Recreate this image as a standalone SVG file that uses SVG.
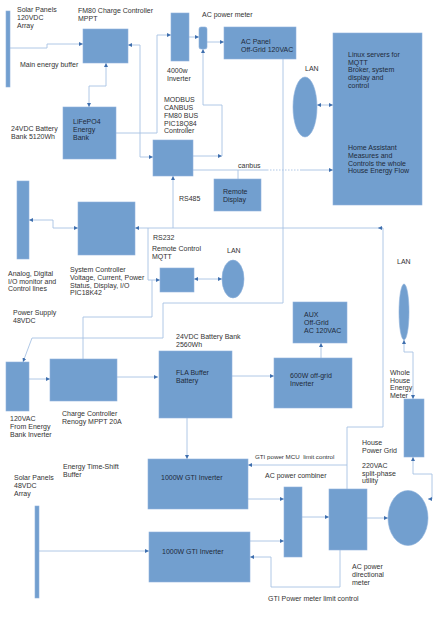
<svg xmlns="http://www.w3.org/2000/svg" width="439" height="620" viewBox="0 0 439 620">
<defs>
<style>
.b{fill:#729fcf;stroke:#8fb2dc;stroke-width:0.6}
.c{fill:none;stroke:#a7c2e3;stroke-width:0.9}
.d{fill:none;stroke:#a7c2e3;stroke-width:0.9;stroke-dasharray:1.5 1.5}
text{font-family:"Liberation Sans",Arial,sans-serif;font-size:7px;fill:#333333}
.w{fill:#1e2a3a}
.s{font-size:6.2px}
</style>
<marker id="a" viewBox="0 0 6 6" refX="6" refY="3" markerWidth="4" markerHeight="4" orient="auto-start-reverse" markerUnits="userSpaceOnUse">
<path d="M0,0 L6,3 L0,6 z" fill="#3f6fae"/>
</marker>
</defs>
<rect width="439" height="620" fill="#fff"/>

<g id="connectors">
<path class="c" d="M10,48 H47 V44 H83" marker-end="url(#a)"/>
<path class="c" d="M106,63 V86 H89 V107" marker-start="url(#a)" marker-end="url(#a)"/>
<path class="c" d="M128,45 H140 V157 H153" marker-start="url(#a)" marker-end="url(#a)"/>
<path class="c" d="M116,133 H157 V35 H171" marker-end="url(#a)"/>
<path class="c" d="M189,37 H199" marker-end="url(#a)"/>
<path class="c" d="M207,42 H224" marker-end="url(#a)"/>
<path class="c" d="M193,156 H222" marker-end="url(#a)"/>
<path class="c" d="M222,156 V105 H203 V49" marker-end="url(#a)"/>
<path class="c" d="M190,170 H267"/>
<path class="d" d="M267,170 H300"/>
<path class="c" d="M300,170 H333" marker-end="url(#a)"/>
<path class="c" d="M238,170 V179"/>
<path class="c" d="M317,105 H333" marker-start="url(#a)" marker-end="url(#a)"/>
<path class="c" d="M78,228 H53 V220 H29" marker-start="url(#a)" marker-end="url(#a)"/>
<path class="c" d="M173,228 V176" marker-end="url(#a)"/>
<path class="c" d="M383,228 H135" marker-end="url(#a)"/>
<path class="c" d="M383,228 H378" marker-end="url(#a)"/>
<path class="c" d="M347,490 V427 H383 V228"/>
<path class="c" d="M347,465 H248" marker-end="url(#a)"/>
<path class="c" d="M148,228 V280 H160" marker-end="url(#a)"/>
<path class="c" d="M194,279 H222" marker-start="url(#a)" marker-end="url(#a)"/>
<path class="c" d="M152,280 V317 H83 V359"/>
<path class="c" d="M283,59 V303 H163 V338 H32 L23,362" marker-end="url(#a)"/>
<path class="c" d="M29,379 H50" marker-end="url(#a)"/>
<path class="c" d="M117,377 H158" marker-end="url(#a)"/>
<path class="c" d="M232,376 H274" marker-end="url(#a)"/>
<path class="c" d="M321,358 V343" marker-end="url(#a)"/>
<path class="c" d="M187,418 V459" marker-end="url(#a)"/>
<path class="c" d="M404,340 V352 H413 V399" marker-start="url(#a)" marker-end="url(#a)"/>
<path class="c" d="M428,499 H432 V474 H413 V457" marker-start="url(#a)" marker-end="url(#a)"/>
<path class="c" d="M367,518 H388" marker-end="url(#a)"/>
<path class="c" d="M302,517 H329" marker-end="url(#a)"/>
<path class="c" d="M248,499 H284" marker-end="url(#a)"/>
<path class="c" d="M250,541 H284" marker-end="url(#a)"/>
<path class="c" d="M340,550 V587 H271 V557 H250" marker-end="url(#a)"/>
<path class="c" d="M39,551 H149" marker-end="url(#a)"/>
</g>

<g id="solar120">
<rect class="b" x="6" y="11" width="4" height="76"/>
<text x="17" y="12">Solar Panels</text>
<text x="17" y="20">120VDC</text>
<text x="17" y="28">Array</text>
</g>
<text x="20" y="67">Main energy buffer</text>

<g id="fm80">
<rect class="b" x="83" y="29" width="45" height="34"/>
<text x="78" y="13">FM80 Charge Controller</text>
<text x="78" y="21">MPPT</text>
</g>

<g id="lifepo4">
<rect class="b" x="63" y="107" width="53" height="52"/>
<text class="w" x="73" y="124">LiFePO4</text>
<text class="w" x="73" y="132">Energy</text>
<text class="w" x="73" y="140">Bank</text>
<text x="11" y="131">24VDC Battery</text>
<text x="11" y="139">Bank 5120Wh</text>
</g>

<g id="inverter4000">
<rect class="b" x="171" y="13" width="18" height="48"/>
<text x="167" y="73">4000w</text>
<text x="167" y="81">Inverter</text>
</g>

<g id="acmeter">
<rect class="b" x="199" y="27" width="8" height="22" rx="2"/>
<text x="202" y="17">AC power meter</text>
</g>

<g id="acpanel">
<rect class="b" x="224" y="27" width="72" height="32"/>
<text class="w" x="241" y="44">AC Panel</text>
<text class="w" x="241" y="52">Off-Grid 120VAC</text>
</g>

<g id="lan1">
<ellipse class="b" cx="305" cy="107" rx="12" ry="30"/>
<text x="305" y="71">LAN</text>
</g>

<g id="linux">
<rect class="b" x="333" y="33" width="89" height="172"/>
<text class="w" x="348" y="57">Linux servers for</text>
<text class="w" x="348" y="64.5">MQTT</text>
<text class="w" x="348" y="72">Broker,  system</text>
<text class="w" x="348" y="80">display and</text>
<text class="w" x="348" y="87.5">control</text>
<text class="w" x="348" y="150">Home Assistant</text>
<text class="w" x="348" y="158">Measures and</text>
<text class="w" x="348" y="165.5">Controls the whole</text>
<text class="w" x="348" y="173">House Energy Flow</text>
</g>

<g id="modbus">
<rect class="b" x="153" y="140" width="40" height="36"/>
<text x="164" y="102">MODBUS</text>
<text x="164" y="110">CANBUS</text>
<text x="164" y="118">FM80 BUS</text>
<text x="164" y="125.5">PIC18Q84</text>
<text x="164" y="133">Controller</text>
</g>
<text x="238" y="168">canbus</text>

<g id="remotedisplay">
<rect class="b" x="214" y="179" width="47" height="32"/>
<text class="w" x="223" y="194">Remote</text>
<text class="w" x="223" y="202">Display</text>
</g>

<g id="analog">
<rect class="b" x="17" y="181" width="12" height="78"/>
<text x="8" y="276">Analog, Digital</text>
<text x="8" y="284">I/O monitor and</text>
<text x="8" y="291">Control lines</text>
</g>

<g id="syscontroller">
<rect class="b" x="78" y="202" width="57" height="53"/>
<text x="70" y="272">System Controller</text>
<text x="70" y="280">Voltage, Current, Power</text>
<text x="70" y="287.5">Status, Display, I/O</text>
<text x="70" y="295">PIC18K42</text>
</g>
<text x="179" y="201">RS485</text>
<text x="153" y="240">RS232</text>

<g id="remotecontrol">
<rect class="b" x="160" y="268" width="34" height="24"/>
<text x="152" y="251">Remote Control</text>
<text x="152" y="259">MQTT</text>
</g>

<g id="lan2">
<ellipse class="b" cx="233" cy="279" rx="11" ry="19"/>
<text x="227" y="253">LAN</text>
</g>

<g id="powersupply">
<rect class="b" x="6" y="362" width="23" height="49"/>
<text x="13" y="315">Power Supply</text>
<text x="13" y="323">48VDC</text>
<text x="10" y="421">120VAC</text>
<text x="10" y="429">From Energy</text>
<text x="10" y="437">Bank Inverter</text>
</g>

<g id="chargecontroller">
<rect class="b" x="50" y="359" width="67" height="42"/>
<text x="62" y="416">Charge Controller</text>
<text x="62" y="424">Renogy MPPT 20A</text>
</g>

<g id="fla">
<rect class="b" x="159" y="351" width="73" height="67"/>
<text class="w" x="176" y="375">FLA Buffer</text>
<text class="w" x="176" y="383">Battery</text>
<text x="176" y="339">24VDC Battery Bank</text>
<text x="176" y="347">2560Wh</text>
</g>

<g id="inverter600">
<rect class="b" x="274" y="358" width="78" height="50"/>
<text class="w" x="290" y="378">600W off-grid</text>
<text class="w" x="290" y="386">Inverter</text>
</g>

<g id="aux">
<rect class="b" x="293" y="302" width="54" height="41"/>
<text class="w" x="304" y="317">AUX</text>
<text class="w" x="304" y="325">Off-Grid</text>
<text class="w" x="304" y="333">AC 120VAC</text>
</g>

<g id="lan3">
<ellipse class="b" cx="404" cy="312" rx="5" ry="28"/>
<text x="397" y="264">LAN</text>
</g>

<g id="housemeter">
<rect class="b" x="404" y="399" width="20" height="58"/>
<text x="390" y="375">Whole</text>
<text x="390" y="382.5">House</text>
<text x="390" y="390">Energy</text>
<text x="390" y="398">Meter</text>
</g>
<text x="362" y="445">House</text>
<text x="362" y="453">Power Grid</text>
<text x="362" y="468">220VAC</text>
<text x="362" y="476">split-phase</text>
<text x="362" y="483">utility</text>

<g id="grid">
<ellipse class="b" cx="408" cy="518" rx="20" ry="27.5"/>
</g>

<g id="dirmeter">
<rect class="b" x="329" y="489" width="38" height="61"/>
<text x="352" y="569">AC power</text>
<text x="352" y="577">directional</text>
<text x="352" y="585">meter</text>
</g>

<g id="combiner">
<rect class="b" x="284" y="487" width="18" height="70"/>
<text x="265" y="478">AC power combiner</text>
</g>
<text class="s" x="255" y="459" xml:space="preserve">GTI power MCU  limit control</text>

<g id="gti1">
<rect class="b" x="148" y="459" width="100" height="50"/>
<text class="w" x="161" y="480">1000W GTI Inverter</text>
</g>

<g id="gti2">
<rect class="b" x="149" y="532" width="101" height="50"/>
<text class="w" x="162" y="554">1000W GTI Inverter</text>
</g>
<text x="268" y="601">GTI Power meter limit control</text>

<g id="solar48">
<rect class="b" x="35" y="506" width="4" height="92"/>
<text x="14" y="480">Solar Panels</text>
<text x="14" y="488">48VDC</text>
<text x="14" y="496">Array</text>
</g>
<text x="63" y="469">Energy Time-Shift</text>
<text x="63" y="477">Buffer</text>
</svg>
